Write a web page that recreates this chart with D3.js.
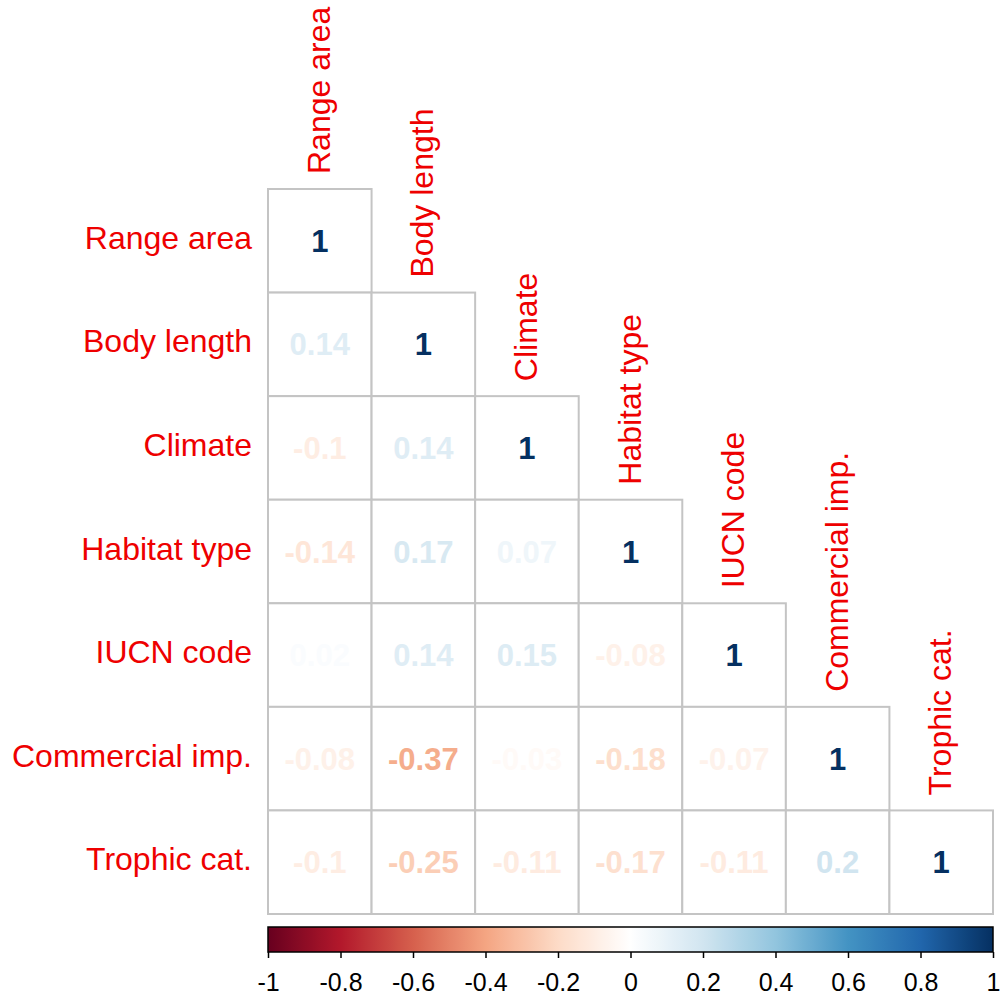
<!DOCTYPE html>
<html>
<head>
<meta charset="utf-8">
<script src="https://cdn.jsdelivr.net/npm/d3@7"></script>
<style>
  html, body { margin: 0; padding: 0; background: #fff; }
  svg { display: block; }
  text { font-family: "Liberation Sans", Arial, sans-serif; }
</style>
</head>
<body>
<svg id="chart" width="1000" height="997"></svg>
<script>
// Variable names (rows and columns of the correlation matrix)
const variables = ["Range area", "Body length", "Climate", "Habitat type",
                   "IUCN code", "Commercial imp.", "Trophic cat."];

// Lower triangle of the correlation matrix, one row per variable
const corrRows = [
  [1],
  [0.14, 1],
  [-0.1, 0.14, 1],
  [-0.14, 0.17, 0.07, 1],
  [0.02, 0.14, 0.15, -0.08, 1],
  [-0.08, -0.37, -0.03, -0.18, -0.07, 1],
  [-0.1, -0.25, -0.11, -0.17, -0.11, 0.2, 1]
];

// Colour legend tick labels
const legendTicks = [-1, -0.8, -0.6, -0.4, -0.2, 0, 0.2, 0.4, 0.6, 0.8, 1];

// Diverging red-blue palette
const paletteStops = ["#67001F", "#B2182B", "#D6604D", "#F4A582", "#FDDBC7",
                      "#FFFFFF", "#D1E5F0", "#92C5DE", "#4393C3", "#2166AC", "#053061"];

const svg = d3.select("#chart");

const gridLeft = 268, gridTop = 189, gridSize = 725;
const labelSize = 32;

const x = d3.scaleBand().domain(variables).range([gridLeft, gridLeft + gridSize]).padding(0);
const y = d3.scaleBand().domain(variables).range([gridTop, gridTop + gridSize]).padding(0);
const color = d3.scaleLinear()
  .domain(d3.range(paletteStops.length).map(i => -1 + 2 * i / (paletteStops.length - 1)))
  .range(paletteStops)
  .interpolate(d3.interpolateRgb);

// Flatten lower triangle into cells
const cells = [];
corrRows.forEach((row, i) => row.forEach((v, j) => {
  cells.push({ row: variables[i], col: variables[j], value: v });
}));

const cellG = svg.append("g");
cellG.selectAll("rect")
  .data(cells)
  .join("rect")
  .attr("x", d => x(d.col))
  .attr("y", d => y(d.row))
  .attr("width", x.bandwidth())
  .attr("height", y.bandwidth())
  .attr("fill", "#fff")
  .attr("stroke", "#c4c4c4")
  .attr("stroke-width", 2);

cellG.selectAll("text")
  .data(cells)
  .join("text")
  .attr("x", d => x(d.col) + x.bandwidth() / 2)
  .attr("y", d => y(d.row) + y.bandwidth() / 2 + 11)
  .attr("text-anchor", "middle")
  .attr("font-size", 31)
  .attr("font-weight", "bold")
  .attr("fill", d => color(d.value))
  .text(d => String(d.value));

// Row labels
svg.append("g").selectAll("text")
  .data(variables)
  .join("text")
  .attr("x", gridLeft - 16)
  .attr("y", d => y(d) + y.bandwidth() / 2 + 8)
  .attr("text-anchor", "end")
  .attr("font-size", labelSize)
  .attr("fill", "#ee0000")
  .text(d => d);

// Column labels, placed above the diagonal cell of each column
svg.append("g").selectAll("text")
  .data(variables)
  .join("text")
  .attr("transform", d => `translate(${x(d) + x.bandwidth() / 2 + 10},${y(d) - 15}) rotate(-90)`)
  .attr("text-anchor", "start")
  .attr("font-size", labelSize)
  .attr("fill", "#ee0000")
  .text(d => d);

// Colour legend
const barTop = 927, barHeight = 25;
const lx = d3.scaleLinear().domain([-1, 1]).range([gridLeft, gridLeft + gridSize]);

const grad = svg.append("defs").append("linearGradient")
  .attr("id", "corrGrad").attr("x1", "0%").attr("x2", "100%").attr("y1", "0%").attr("y2", "0%");
d3.range(0, 101).forEach(k => {
  const v = -1 + 2 * k / 100;
  grad.append("stop").attr("offset", k + "%").attr("stop-color", color(v));
});

svg.append("rect")
  .attr("x", lx(-1)).attr("y", barTop)
  .attr("width", lx(1) - lx(-1)).attr("height", barHeight)
  .attr("fill", "url(#corrGrad)")
  .attr("stroke", "#000").attr("stroke-width", 1.5);

const axis = d3.axisBottom(lx).tickValues(legendTicks).tickSize(6).tickFormat(d => String(d));
const axisG = svg.append("g")
  .attr("transform", `translate(0,${barTop + barHeight})`)
  .call(axis);
axisG.select(".domain").remove();
axisG.selectAll(".tick line").attr("stroke", "#000").attr("stroke-width", 1.5);
axisG.selectAll(".tick text")
  .attr("font-family", "'Liberation Sans', Arial, sans-serif")
  .attr("font-size", 25)
  .attr("fill", "#000")
  .attr("y", 0)
  .attr("dy", 0)
  .attr("transform", "translate(0,39)");
</script>
</body>
</html>
